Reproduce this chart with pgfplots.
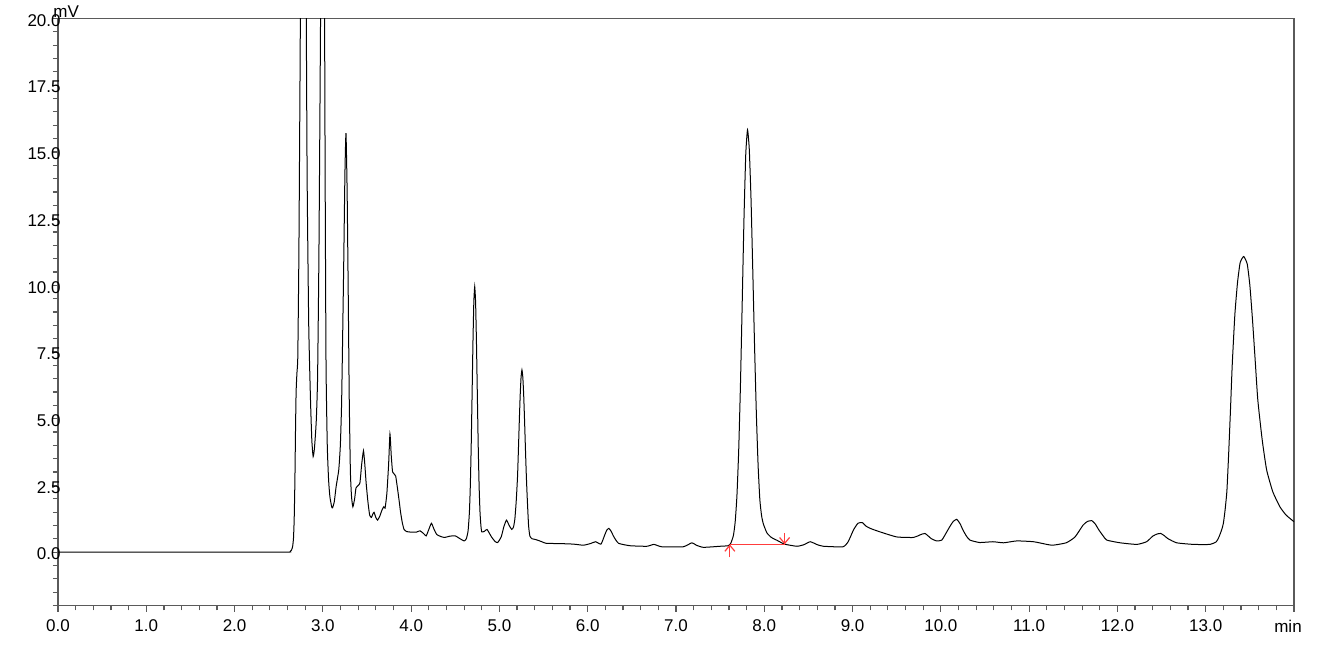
\documentclass[border=0pt]{standalone}
\usepackage{pgfplots}
\pgfplotsset{compat=1.18}
\usepackage{fontspec}
\setmainfont{Liberation Sans}
\usetikzlibrary{arrows.meta}
\definecolor{axgray}{RGB}{90,90,90}
\definecolor{annred}{RGB}{255,60,60}
\begin{document}
\fontsize{8.5}{10}\selectfont
\begin{tikzpicture}
\begin{axis}[
  name=ax,
  at={(0,0)}, anchor=south west,
  scale only axis, width=618pt, height=293.5pt,
  xmin=0, xmax=14, ymin=-2, ymax=20,
  axis line style={axgray, line width=0.6pt},
  tick style={axgray, line width=0.6pt},
  tick align=outside,
  xtick={0,1,...,14},
  xticklabels={0.0,1.0,2.0,3.0,4.0,5.0,6.0,7.0,8.0,9.0,10.0,11.0,12.0,13.0,{\hspace*{-6pt}min}},
  minor xtick={0,0.2,...,14},
  ytick={0,2.5,5,7.5,10,12.5,15,17.5,20},
  yticklabels={0.0,2.5,5.0,7.5,10.0,12.5,15.0,17.5,20.0},
  minor ytick={-2,-1.5,...,20},
  major tick length=3pt, minor tick length=2.5pt,
  xtick pos=bottom, ytick pos=left,
  yticklabel style={anchor=east, inner sep=0pt, xshift=4.5pt, yshift=-1pt},
  xticklabel style={anchor=north, inner sep=0pt, yshift=-4pt},
  clip=true,
]
\addplot[black, line width=0.5pt, smooth, tension=0.3] coordinates {
(0,0) (1,0) (2,0) (2.6,0) (2.63,0.02) (2.645,0.08) (2.657,0.2) (2.667,0.5) (2.675,1.2) (2.683,2.6) (2.69,4.5) (2.697,6.0) (2.706,6.7) (2.716,7.3) (2.728,11) (2.738,16) (2.748,22) (2.765,40) (2.78,55) (2.795,40) (2.81,22) (2.822,14) (2.84,8.5) (2.86,5.7) (2.875,4.2) (2.89,3.58) (2.905,3.9) (2.925,4.9) (2.94,6.5) (2.955,11) (2.97,18) (2.98,24) (2.998,45) (3.016,24) (3.026,14) (3.036,7) (3.05,4.0) (3.065,2.7) (3.08,2.07) (3.1,1.7) (3.11,1.66) (3.13,1.9) (3.15,2.45) (3.18,3.08) (3.198,4.0) (3.213,5.7) (3.235,10.5) (3.25,14.2) (3.262,15.7) (3.275,13.5) (3.288,9.5) (3.299,5.7) (3.312,3.0) (3.325,2.07) (3.34,1.7) (3.36,2.0) (3.375,2.4) (3.40,2.5) (3.42,2.6) (3.44,3.3) (3.46,3.8) (3.475,3.3) (3.49,2.6) (3.51,1.9) (3.53,1.39) (3.55,1.3) (3.565,1.42) (3.58,1.49) (3.60,1.3) (3.62,1.2) (3.645,1.35) (3.67,1.58) (3.69,1.7) (3.705,1.65) (3.725,2.2) (3.745,3.3) (3.76,4.43) (3.775,3.6) (3.79,3.0) (3.81,2.92) (3.825,2.85) (3.845,2.4) (3.865,1.9) (3.88,1.5) (3.90,1.1) (3.92,0.85) (3.95,0.77) (4.0,0.75) (4.06,0.75) (4.10,0.80) (4.14,0.7) (4.17,0.61) (4.20,0.85) (4.23,1.08) (4.26,0.85) (4.29,0.66) (4.34,0.58) (4.38,0.55) (4.44,0.60) (4.50,0.61) (4.55,0.51) (4.60,0.42) (4.625,0.5) (4.645,0.8) (4.66,1.5) (4.67,2.46) (4.68,3.94) (4.69,5.85) (4.70,7.83) (4.71,9.37) (4.72,9.95) (4.73,9.37) (4.74,7.83) (4.75,5.85) (4.76,3.94) (4.77,2.46) (4.78,1.5) (4.79,1.0) (4.80,0.76) (4.83,0.78) (4.86,0.85) (4.91,0.57) (4.95,0.4) (4.98,0.36) (5.02,0.57) (5.05,0.95) (5.08,1.2) (5.11,1.0) (5.14,0.85) (5.16,0.95) (5.175,1.25) (5.19,1.9) (5.205,2.83) (5.215,3.83) (5.225,4.9) (5.235,5.87) (5.245,6.55) (5.255,6.83) (5.265,6.55) (5.275,5.87) (5.285,4.9) (5.295,3.83) (5.305,2.83) (5.315,2.03) (5.33,1.0) (5.345,0.6) (5.37,0.5) (5.40,0.48) (5.44,0.44) (5.48,0.39) (5.53,0.33) (5.69,0.32) (5.84,0.30) (5.95,0.26) (6.03,0.32) (6.09,0.39) (6.15,0.30) (6.19,0.62) (6.215,0.82) (6.24,0.89) (6.265,0.78) (6.30,0.55) (6.35,0.33) (6.48,0.24) (6.67,0.22) (6.75,0.29) (6.84,0.2) (7.08,0.2) (7.18,0.35) (7.23,0.26) (7.31,0.18) (7.50,0.22) (7.59,0.24) (7.62,0.33) (7.65,0.62) (7.67,1.12) (7.69,2.1) (7.71,3.8) (7.73,6.27) (7.75,9.36) (7.77,12.5) (7.79,14.9) (7.81,15.83) (7.83,15.1) (7.85,13.2) (7.87,10.5) (7.89,7.7) (7.91,5.2) (7.93,3.25) (7.95,1.95) (7.97,1.35) (7.99,1.05) (8.03,0.72) (8.08,0.55) (8.14,0.45) (8.23,0.30) (8.37,0.22) (8.45,0.28) (8.52,0.39) (8.60,0.28) (8.67,0.22) (8.89,0.2) (8.95,0.39) (9.01,0.83) (9.06,1.08) (9.11,1.11) (9.15,0.98) (9.20,0.89) (9.31,0.76) (9.50,0.57) (9.69,0.55) (9.76,0.64) (9.82,0.70) (9.89,0.51) (9.95,0.42) (10.01,0.45) (10.06,0.72) (10.10,0.95) (10.14,1.15) (10.18,1.23) (10.22,1.05) (10.25,0.83) (10.29,0.6) (10.33,0.45) (10.44,0.36) (10.59,0.39) (10.71,0.35) (10.86,0.42) (11.05,0.39) (11.20,0.29) (11.27,0.26) (11.42,0.35) (11.52,0.57) (11.61,1.01) (11.66,1.15) (11.71,1.18) (11.75,1.05) (11.79,0.83) (11.84,0.6) (11.88,0.45) (12.03,0.35) (12.22,0.29) (12.33,0.39) (12.40,0.6) (12.45,0.68) (12.49,0.70) (12.53,0.62) (12.57,0.51) (12.67,0.35) (12.86,0.29) (13.05,0.29) (13.12,0.39) (13.15,0.57) (13.18,0.83) (13.20,1.08) (13.22,1.6) (13.24,2.3) (13.26,3.7) (13.28,5.3) (13.30,7.0) (13.33,8.9) (13.36,10.1) (13.39,10.85) (13.43,11.08) (13.47,10.8) (13.50,10.0) (13.53,8.7) (13.56,7.2) (13.59,5.70) (13.64,4.20) (13.69,3.08) (13.76,2.26) (13.84,1.70) (13.91,1.39) (14.0,1.14)
};
\addplot[annred, line width=0.6pt] coordinates {(7.61,0.29) (8.23,0.29)};
\addplot[annred, line width=0.6pt, -{Straight Barb[length=3pt,width=5pt]}] coordinates {(7.61,-0.2) (7.61,0.29)};
\addplot[annred, line width=0.6pt, -{Straight Barb[length=3pt,width=5pt]}] coordinates {(8.23,0.72) (8.23,0.29)};
\end{axis}
\node[anchor=south west, inner sep=0pt, xshift=-2.5pt, yshift=0.5pt] at (ax.north west) {mV};
\pgfresetboundingbox
\path[use as bounding box] (-29pt,-20.75pt) rectangle (634.5pt,302.75pt);
\end{tikzpicture}
\end{document}
